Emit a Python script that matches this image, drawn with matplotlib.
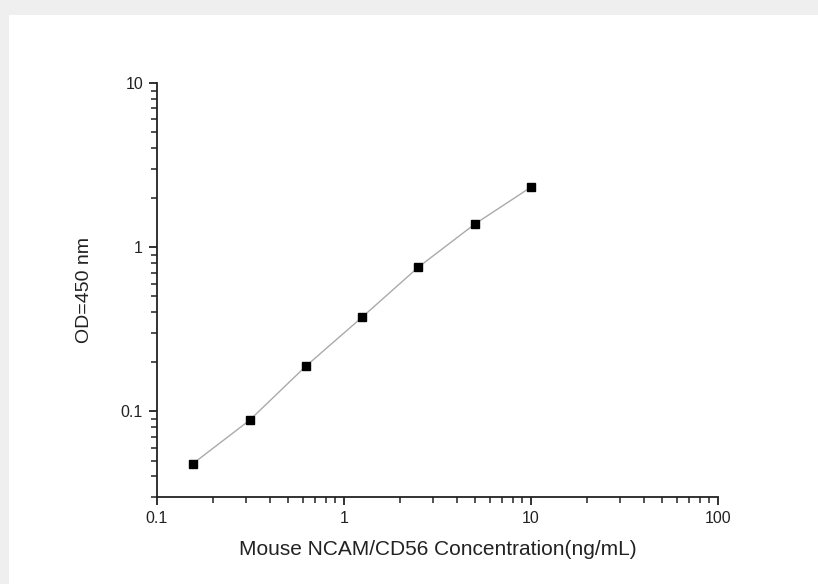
import matplotlib
matplotlib.use("Agg")
import matplotlib.pyplot as plt
from matplotlib.patches import Rectangle
from matplotlib.ticker import LogLocator, FixedLocator, NullFormatter

conc = [0.156, 0.3125, 0.625, 1.25, 2.5, 5, 10]
od = [0.048, 0.088, 0.188, 0.374, 0.755, 1.38, 2.32]
xticks = [0.1, 1, 10, 100]
xtick_labels = ["0.1", "1", "10", "100"]
yticks = [0.1, 1, 10]
ytick_labels = ["0.1", "1", "10"]

plt.rcParams['font.family'] = ['Liberation Sans', 'DejaVu Sans']

W, H = 818, 584
fig = plt.figure(figsize=(W / 100, H / 100), dpi=100, facecolor="#efefef")
fig.patches.append(Rectangle((9 / W, 0), 1 - 9 / W, 1 - 15 / H, transform=fig.transFigure,
                             facecolor="white", edgecolor="none", zorder=-10))

ax = fig.add_axes([157 / W, 1 - 497 / H, (718 - 157) / W, (497 - 83) / H])
ax.set_zorder(5)
ax.set_facecolor("none")
ax.plot(conc, od, color="#aaaaaa", lw=1.0, zorder=2)
ax.plot(conc, od, ls="none", marker="s", ms=6, color="black", zorder=3)

ax.set_xscale("log")
ax.set_yscale("log")
ax.set_xlim(0.1, 100)
ax.set_ylim(0.03, 10)

ax.xaxis.set_major_locator(FixedLocator(xticks))
ax.set_xticklabels(xtick_labels)
ax.yaxis.set_major_locator(FixedLocator(yticks))
ax.set_yticklabels(ytick_labels)
ax.xaxis.set_minor_locator(LogLocator(base=10, subs=range(2, 10), numticks=20))
ax.yaxis.set_minor_locator(LogLocator(base=10, subs=range(2, 10), numticks=20))
ax.xaxis.set_minor_formatter(NullFormatter())
ax.yaxis.set_minor_formatter(NullFormatter())

for s in ["top", "right"]:
    ax.spines[s].set_visible(False)
for s in ["left", "bottom"]:
    ax.spines[s].set_linewidth(1.3)
    ax.spines[s].set_color("#222222")

ax.tick_params(which="major", direction="out", length=6, width=1.3, colors="#222222",
               labelsize=11.5, labelcolor="#222222", pad=4)
ax.tick_params(which="minor", direction="out", length=4, width=1.1, colors="#222222")

ax.set_xlabel("Mouse NCAM/CD56 Concentration(ng/mL)", fontsize=15, color="#222222", labelpad=10)
ax.set_ylabel("OD=450 nm", fontsize=14, color="#222222", labelpad=20)

fig.savefig("out.png", dpi=100, facecolor=fig.get_facecolor())
